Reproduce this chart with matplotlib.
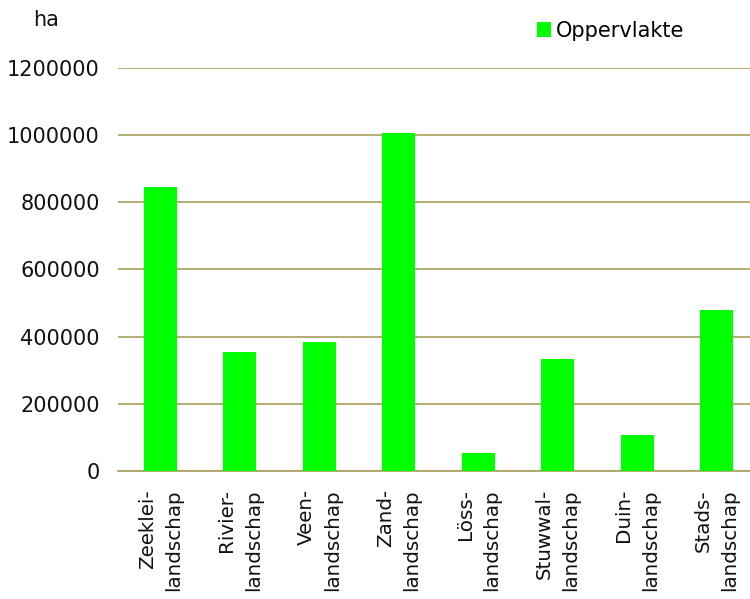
import matplotlib.pyplot as plt

categories = ["Zeeklei-\nlandschap", "Rivier-\nlandschap", "Veen-\nlandschap", "Zand-\nlandschap",
              "Löss-\nlandschap", "Stuwwal-\nlandschap", "Duin-\nlandschap", "Stads-\nlandschap"]
oppervlakte = [845000, 354000, 384000, 1006000, 54000, 333000, 107000, 479000]
yticks = [0, 200000, 400000, 600000, 800000, 1000000, 1200000]

green = "#00FF00"
grid_col = "#A8A05A"
fs = 15

plt.rcParams['font.family'] = ['DejaVu Sans']
fig = plt.figure(figsize=(7.5, 5.99), dpi=100)
ax = fig.add_axes([0.1573, 0.2137, 0.8427, 0.6728])

x = list(range(len(categories)))
ax.bar(x, oppervlakte, width=0.415, color=green, label="Oppervlakte", zorder=3)

ax.set_ylim(0, 1200000)
ax.set_xlim(-0.535, 7.42)
ax.set_yticks(yticks)
ax.set_yticklabels([str(v) for v in yticks], fontsize=fs, color="#111111")
ax.set_xticks(x)
ax.set_xticklabels(categories, rotation=90, fontsize=14.3, color="#111111",
                   ha="center", va="top", multialignment="right", linespacing=1.5)
ax.tick_params(axis="both", length=0)
ax.tick_params(axis="y", pad=13)
ax.tick_params(axis="x", pad=13)

ax.grid(axis="y", color=grid_col, linewidth=1.2, zorder=0)
for s in ["left", "right", "top"]:
    ax.spines[s].set_visible(False)
ax.spines["bottom"].set_color(grid_col)
ax.spines["bottom"].set_linewidth(1.2)

fig.text(33 / 750, 1 - 20 / 599, "ha", fontsize=fs, va="center", ha="left", color="#111111")
fig.legend(loc="upper left", bbox_to_anchor=(522 / 750, 1 - 6 / 599), frameon=False,
           fontsize=fs, handlelength=0.7, handleheight=0.7, handletextpad=0.25,
           borderpad=0.2)

fig.savefig("out.png", dpi=100, facecolor="white")
